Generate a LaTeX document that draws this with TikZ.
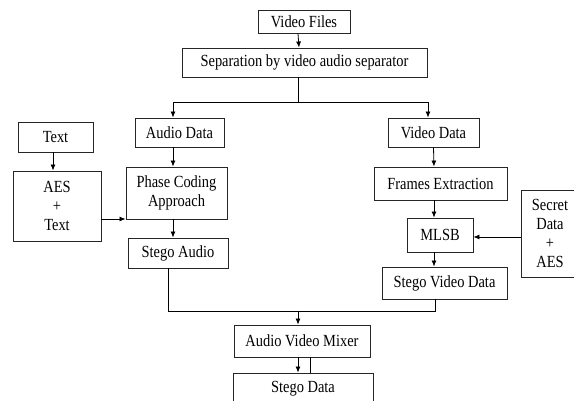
\documentclass[tikz,border=0pt]{standalone}
\usepackage{fontspec}
\setmainfont{Liberation Serif}[FakeStretch=0.85]
\usetikzlibrary{arrows.meta}

\begin{document}
\begin{tikzpicture}[x=1pt, y=-1pt,
    box/.style={draw=black!85, line width=0.9pt, align=center, inner sep=0pt, font=\fontsize{17}{19}\selectfont},
    flow/.style={-{Latex[length=6pt,width=5pt]}, line width=0.8pt},
    link/.style={line width=0.8pt}]
                \clip (0,0) rectangle (574,401);
                \fill[white] (0,0) rectangle (574,401);
                % top of the chain
                \node[box, minimum width=92pt, minimum height=23pt] (files) at (304,21.5) {Video Files};
                \node[box, minimum width=245pt, minimum height=29pt] (sep) at (304.5,62.5) {Separation by video audio separator};
                \draw[flow] ([xshift=-6pt]files.south) -- ([xshift=-5.5pt]sep.north);
                \coordinate (split) at (298,102);
                % audio branch
                \node[box, minimum width=89pt, minimum height=29pt] (audio) at (179.5,132.5) {Audio Data};
                \node[box, minimum width=101pt, minimum height=52pt] (phase) at (176.5,193) {Phase Coding\\Approach};
                \node[box, minimum width=100pt, minimum height=30pt] (stegoaudio) at (178,253) {Stego Audio};
                \node[box, minimum width=75pt, minimum height=30pt] (text) at (55.5,137) {Text};
                \node[box, minimum width=88pt, minimum height=70pt] (aes) at (57,206) {AES\\+\\Text};
                % video branch
                \node[box, minimum width=91pt, minimum height=29pt] (video) at (433.5,132.5) {Video Data};
                \node[box, minimum width=133pt, minimum height=33pt] (frames) at (440.5,183.5) {Frames Extraction};
                \node[box, minimum width=66pt, minimum height=34pt] (mlsb) at (440,235) {MLSB};
                \node[box, minimum width=125pt, minimum height=32pt] (stegovideo) at (444.5,283) {Stego Video Data};
                \node[box, minimum width=58pt, minimum height=87pt] (secret) at (550,233.5) {Secret\\Data\\+\\AES};
                \coordinate (secretin) at ([yshift=-3.5pt]secret.west);
                % mixing
                \coordinate (merge) at (298,311);
                \node[box, minimum width=136pt, minimum height=32pt] (mixer) at (302,341) {Audio Video Mixer};
                \node[box, minimum width=140pt, minimum height=32pt] (stegodata) at (303,389) {Stego Data};
                % connectors
                \draw[link] ([xshift=-6.5pt]sep.south) -- (split);
                \draw[flow] (split) -| ([xshift=-6.5pt]audio.north);
                \draw[flow] (split) -| ([xshift=-5.5pt]video.north);
                \draw[flow] ([xshift=-6.5pt]audio.south) -- ([xshift=-3.5pt]phase.north);
                \draw[flow] ([xshift=-3.5pt]phase.south) -- ([xshift=-5pt]stegoaudio.north);
                \draw[flow] ([xshift=-2.5pt]text.south) -- ([xshift=-4pt]aes.north);
                \draw[flow] ([yshift=-13pt]aes.east) -- ([yshift=-13pt]aes.east -| phase.west);
                \draw[flow] (video.south) -- ([xshift=-6.5pt]frames.north);
                \draw[flow] ([xshift=-6.5pt]frames.south) -- ([xshift=-6pt]mlsb.north);
                \draw[flow] (secretin) -- (secretin -| mlsb.east);
                \draw[flow] ([xshift=-6pt]mlsb.south) -- ([xshift=-10.5pt]stegovideo.north);
                \draw[link] ([xshift=-10pt]stegoaudio.south) |- (merge);
                \draw[link] ([xshift=-9.5pt]stegovideo.south) |- (merge);
                \draw[flow] (merge) -- ([xshift=-4pt]mixer.north);
                \draw[flow] ([xshift=-4pt]mixer.south) -- ([xshift=-5pt]stegodata.north);
                \draw[link] ([xshift=8pt]mixer.south) -- ([xshift=7pt]stegodata.north);
            \end{tikzpicture}
\end{document}
